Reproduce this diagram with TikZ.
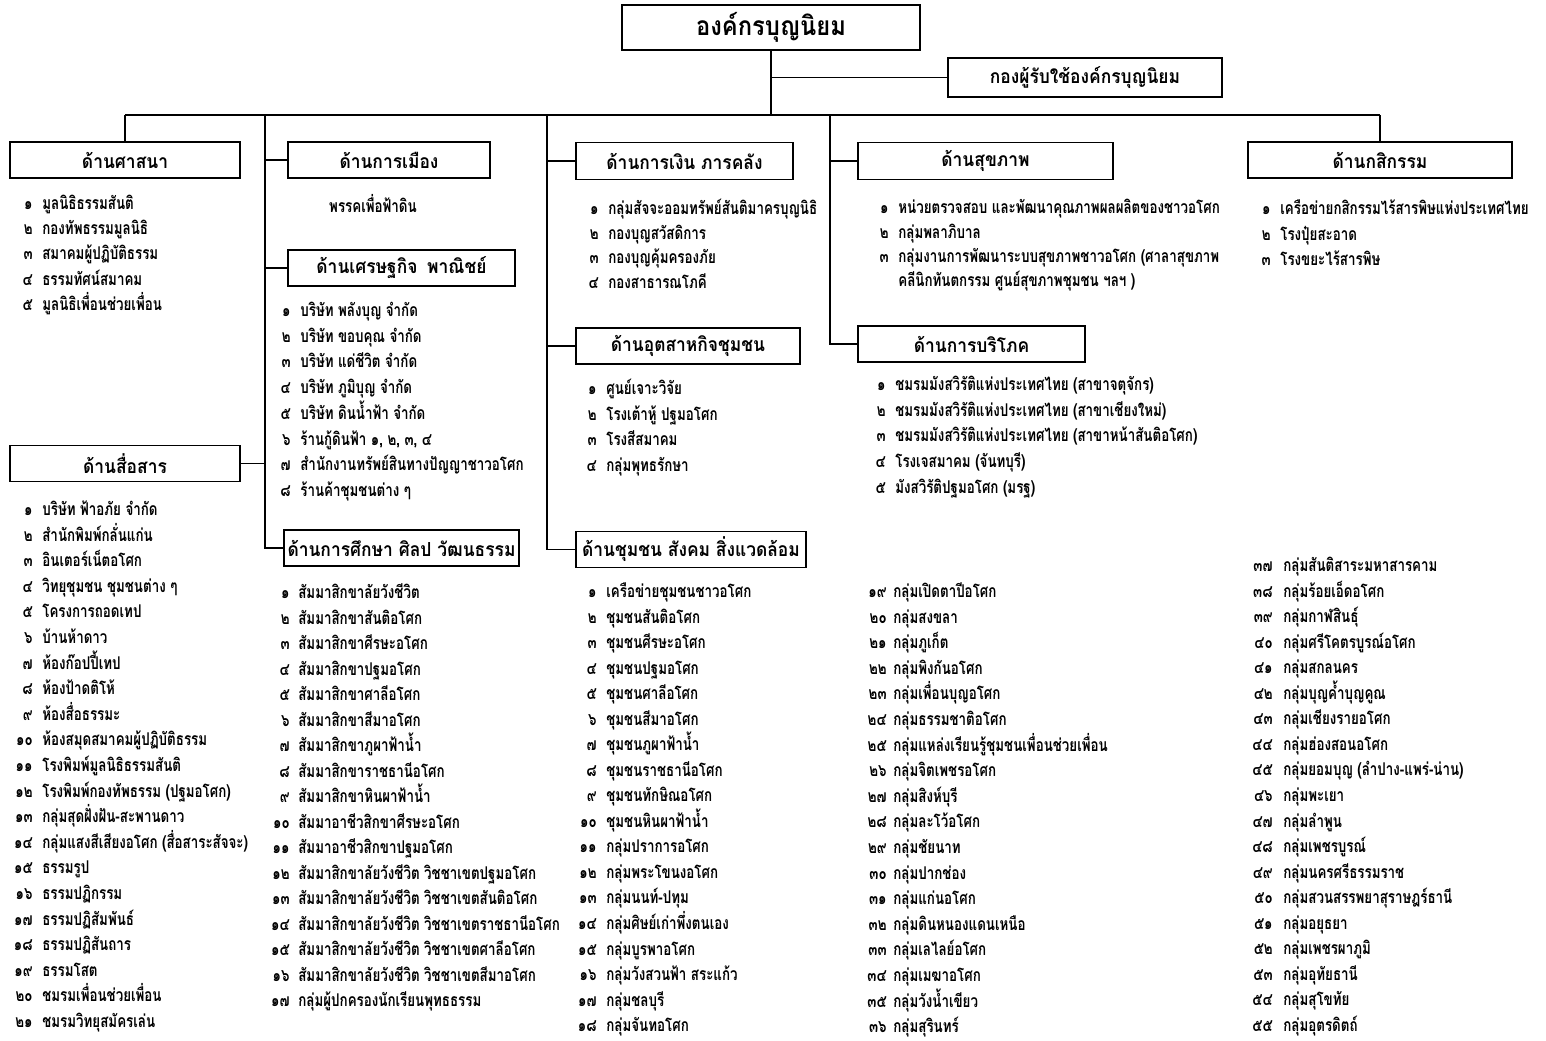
\documentclass[tikz,border=0pt]{standalone}
\usepackage{fontspec}
\newfontfamily\thaifont[Script=Thai, FakeStretch=0.9]{Loma}
\newfontfamily\thainarrow[Script=Thai, FakeStretch=0.76]{Loma}
\usetikzlibrary{positioning}

% Thai numerals for the list counters
\newcommand{\thdig}[1]{\ifcase#1\relax ๐\or ๑\or ๒\or ๓\or ๔\or ๕\or ๖\or ๗\or ๘\or ๙\fi}
\newcommand{\thnum}[1]{\ifnum#1>9 \thdig{\numexpr(#1-5)/10\relax}\thdig{\numexpr#1-10*((#1-5)/10)\relax}\else\thdig{#1}\fi}
\newcommand{\listfont}{\thainarrow\bfseries\fontsize{10}{12}\selectfont}

\begin{document}
\begin{tikzpicture}[x=0.02cm, y=-0.02cm,
    dept/.style={draw, line width=1pt, rectangle, minimum height=0.72cm, inner sep=2pt,
      font=\thaifont\bfseries\fontsize{11}{13}\selectfont},
    num/.style={anchor=east, inner sep=0pt, text height=1.7ex, text depth=0.5ex, font=\listfont},
    item/.style={anchor=west, inner sep=0pt, text height=1.7ex, text depth=0.5ex, font=\listfont},
    link/.style={line width=0.7pt}]
    \useasboundingbox (0,0) rectangle (1546,1041);

    % head and staff
    \node[dept, line width=1.6pt, minimum width=5.96cm, minimum height=0.9cm,
      font=\thaifont\bfseries\fontsize{15}{18}\selectfont] (top) at (771,27.5) {องค์กรบุญนิยม};
    \node[dept, minimum width=5.48cm, minimum height=0.78cm] (staff) at (1085,77.5) {กองผู้รับใช้องค์กรบุญนิยม};

    % departments
    \node[dept, minimum width=4.6cm] (religion) at (125,160) {ด้านศาสนา};
    \node[dept, minimum width=4.04cm] (politics) at (389,160) {ด้านการเมือง};
    \node[dept, minimum width=4.34cm, minimum height=0.74cm] (finance) at (684.5,161) {ด้านการเงิน ภารคลัง};
    \node[dept, minimum width=5.1cm, minimum height=0.74cm] (health) at (985.5,161) {ด้านสุขภาพ};
    \node[dept, minimum width=5.28cm] (agri) at (1380,160) {ด้านกสิกรรม};
    \node[dept, minimum width=4.54cm] (econ) at (401.5,268) {ด้านเศรษฐกิจ\enspace พาณิชย์};
    \node[dept, minimum width=4.48cm] (industry) at (688,346) {ด้านอุตสาหกิจชุมชน};
    \node[dept, minimum width=4.54cm] (consume) at (971.5,344) {ด้านการบริโภค};
    \node[dept, minimum width=4.6cm] (media) at (125,463.5) {ด้านสื่อสาร};
    \node[dept, minimum width=4.54cm] (edu) at (401.5,548) {ด้านการศึกษา ศิลป วัฒนธรรม};
    \node[dept, minimum width=4.6cm] (community) at (691,549.5) {ด้านชุมชน สังคม สิ่งแวดล้อม};

    % connectors
    \coordinate (busL) at (religion.north |- 0,115);
    \coordinate (busR) at (agri.north |- 0,115);
    \coordinate (sp1) at (265,115);
    \coordinate (sp2) at (547,115);
    \coordinate (sp3) at (830,115);
    \draw[link] (top.south) -- (top.south |- busL);
    \draw[link] (top.south |- staff.west) -- (staff.west);
    \draw[link] (busL) -- (busR);
    \draw[link] (busL) -- (religion.north);
    \draw[link] (busR) -- (agri.north);
    \draw[link] (sp1) |- (edu.west);
    \draw[link] (politics.west -| sp1) -- (politics.west);
    \draw[link] (econ.west -| sp1) -- (econ.west);
    \draw[link] (media.east) -- (media.east -| sp1);
    \draw[link] (sp2) |- (community.west);
    \draw[link] (finance.west -| sp2) -- (finance.west);
    \draw[link] (industry.west -| sp2) -- (industry.west);
    \draw[link] (sp3) |- (consume.west);
    \draw[link] (health.west -| sp3) -- (health.west);

    % lists
    \foreach \t [count=\i] in {มูลนิธิธรรมสันติ, กองทัพธรรมมูลนิธิ, สมาคมผู้ปฏิบัติธรรม,
        ธรรมทัศน์สมาคม, มูลนิธิเพื่อนช่วยเพื่อน}{
      \node[num] (reln\i) at (33,{179.5+25.3*\i}) {\thnum{\i}};
      \node[item] (rel\i) at (42,{179.5+25.3*\i}) {\t};
    }
    \node[font=\listfont] (party) at (373,204) {พรรคเพื่อฟ้าดิน};
    \foreach \t [count=\i] in {บริษัท พลังบุญ จำกัด, บริษัท ขอบคุณ จำกัด, บริษัท แด่ชีวิต จำกัด,
        บริษัท ภูมิบุญ จำกัด, บริษัท ดินน้ำฟ้า จำกัด, {ร้านกู้ดินฟ้า ๑, ๒, ๓, ๔},
        สำนักงานทรัพย์สินทางปัญญาชาวอโศก, ร้านค้าชุมชนต่าง ๆ}{
      \node[num] (ecn\i) at (291,{286.3+25.7*\i}) {\thnum{\i}};
      \node[item] (ec\i) at (300,{286.3+25.7*\i}) {\t};
    }
    \foreach \t [count=\i] in {กลุ่มสัจจะออมทรัพย์สันติมาครบุญนิธิ, กองบุญสวัสดิการ,
        กองบุญคุ้มครองภัย, กองสาธารณโภคี}{
      \node[num] (fin\i) at (599,{185.5+24.6*\i}) {\thnum{\i}};
      \node[item] (fi\i) at (608,{185.5+24.6*\i}) {\t};
    }
    \foreach \t [count=\i] in {ศูนย์เจาะวิจัย, โรงเต้าหู้ ปฐมอโศก, โรงสีสมาคม, กลุ่มพุทธรักษา}{
      \node[num] (ind\i) at (597,{364.5+25.5*\i}) {\thnum{\i}};
      \node[item] (in\i) at (606,{364.5+25.5*\i}) {\t};
    }
    \foreach \t [count=\i] in {หน่วยตรวจสอบ และพัฒนาคุณภาพผลผลิตของชาวอโศก, กลุ่มพลาภิบาล,
        กลุ่มงานการพัฒนาระบบสุขภาพชาวอโศก (ศาลาสุขภาพ}{
      \node[num] (hen\i) at (889,{184.5+24.5*\i}) {\thnum{\i}};
      \node[item] (he\i) at (898,{184.5+24.5*\i}) {\t};
    }
    \node[item, below=4pt of he3.south west, anchor=north west] (he3b) {คลีนิกทันตกรรม ศูนย์สุขภาพชุมชน ฯลฯ )};
    \foreach \t [count=\i] in {ชมรมมังสวิรัติแห่งประเทศไทย (สาขาจตุจักร),
        ชมรมมังสวิรัติแห่งประเทศไทย (สาขาเชียงใหม่),
        ชมรมมังสวิรัติแห่งประเทศไทย (สาขาหน้าสันติอโศก),
        โรงเจสมาคม (จันทบุรี), มังสวิรัติปฐมอโศก (มรฐ)}{
      \node[num] (con\i) at (886,{360+25.8*\i}) {\thnum{\i}};
      \node[item] (co\i) at (895,{360+25.8*\i}) {\t};
    }
    \foreach \t [count=\i] in {เครือข่ายกสิกรรมไร้สารพิษแห่งประเทศไทย, โรงปุ๋ยสะอาด, โรงขยะไร้สารพิษ}{
      \node[num] (agn\i) at (1271,{184.5+25.5*\i}) {\thnum{\i}};
      \node[item] (ag\i) at (1280,{184.5+25.5*\i}) {\t};
    }
    \foreach \t [count=\i] in {บริษัท ฟ้าอภัย จำกัด, สำนักพิมพ์กลั่นแก่น, อินเตอร์เน็ตอโศก,
        วิทยุชุมชน ชุมชนต่าง ๆ, โครงการถอดเทป, บ้านห้าดาว, ห้องก๊อปปี้เทป, ห้องป้าดติโห้,
        ห้องสื่อธรรมะ, ห้องสมุดสมาคมผู้ปฏิบัติธรรม, โรงพิมพ์มูลนิธิธรรมสันติ,
        โรงพิมพ์กองทัพธรรม (ปฐมอโศก), กลุ่มสุดฝั่งฝัน-สะพานดาว,
        กลุ่มแสงสีเสียงอโศก (สื่อสาระสัจจะ), ธรรมรูป, ธรรมปฏิกรรม, ธรรมปฏิสัมพันธ์,
        ธรรมปฏิสันถาร, ธรรมโสต, ชมรมเพื่อนช่วยเพื่อน, ชมรมวิทยุสมัครเล่น}{
      \node[num] (men\i) at (33,{485.4+25.6*\i}) {\thnum{\i}};
      \node[item] (me\i) at (42,{485.4+25.6*\i}) {\t};
    }
    \foreach \t [count=\i] in {สัมมาสิกขาลัยวังชีวิต, สัมมาสิกขาสันติอโศก, สัมมาสิกขาศีรษะอโศก,
        สัมมาสิกขาปฐมอโศก, สัมมาสิกขาศาลีอโศก, สัมมาสิกขาสีมาอโศก, สัมมาสิกขาภูผาฟ้าน้ำ,
        สัมมาสิกขาราชธานีอโศก, สัมมาสิกขาหินผาฟ้าน้ำ, สัมมาอาชีวสิกขาศีรษะอโศก,
        สัมมาอาชีวสิกขาปฐมอโศก, สัมมาสิกขาลัยวังชีวิต วิชชาเขตปฐมอโศก,
        สัมมาสิกขาลัยวังชีวิต วิชชาเขตสันติอโศก, สัมมาสิกขาลัยวังชีวิต วิชชาเขตราชธานีอโศก,
        สัมมาสิกขาลัยวังชีวิต วิชชาเขตศาลีอโศก, สัมมาสิกขาลัยวังชีวิต วิชชาเขตสีมาอโศก,
        กลุ่มผู้ปกครองนักเรียนพุทธธรรม}{
      \node[num] (edn\i) at (290,{568.5+25.5*\i}) {\thnum{\i}};
      \node[item] (ed\i) at (298,{568.5+25.5*\i}) {\t};
    }
    \foreach \t [count=\i] in {เครือข่ายชุมชนชาวอโศก, ชุมชนสันติอโศก, ชุมชนศีรษะอโศก,
        ชุมชนปฐมอโศก, ชุมชนศาลีอโศก, ชุมชนสีมาอโศก, ชุมชนภูผาฟ้าน้ำ, ชุมชนราชธานีอโศก,
        ชุมชนทักษิณอโศก, ชุมชนหินผาฟ้าน้ำ, กลุ่มปราการอโศก, กลุ่มพระโขนงอโศก,
        กลุ่มนนท์-ปทุม, กลุ่มศิษย์เก่าพึ่งตนเอง, กลุ่มบูรพาอโศก, กลุ่มวังสวนฟ้า สระแก้ว,
        กลุ่มชลบุรี, กลุ่มจันทอโศก}{
      \node[num] (cmn\i) at (597,{567.5+25.53*\i}) {\thnum{\i}};
      \node[item] (cm\i) at (606,{567.5+25.53*\i}) {\t};
    }
    \foreach \t [count=\i from 19] in {กลุ่มเปิดตาปีอโศก, กลุ่มสงขลา, กลุ่มภูเก็ต,
        กลุ่มพิงกันอโศก, กลุ่มเพื่อนบุญอโศก, กลุ่มธรรมชาติอโศก,
        กลุ่มแหล่งเรียนรู้ชุมชนเพื่อนช่วยเพื่อน, กลุ่มจิตเพชรอโศก, กลุ่มสิงห์บุรี,
        กลุ่มละโว้อโศก, กลุ่มชัยนาท, กลุ่มปากช่อง, กลุ่มแก่นอโศก, กลุ่มดินหนองแดนเหนือ,
        กลุ่มเลไลย์อโศก, กลุ่มเมฆาอโศก, กลุ่มวังน้ำเขียว, กลุ่มสุรินทร์}{
      \node[num] (cmn\i) at (887,{593+25.6*(\i-19)}) {\thnum{\i}};
      \node[item] (cm\i) at (893,{593+25.6*(\i-19)}) {\t};
    }
    \foreach \t [count=\i from 37] in {กลุ่มสันติสาระมหาสารคาม, กลุ่มร้อยเอ็ดอโศก, กลุ่มกาฬสินธุ์,
        กลุ่มศรีโคตรบูรณ์อโศก, กลุ่มสกลนคร, กลุ่มบุญค้ำบุญคูณ, กลุ่มเชียงรายอโศก,
        กลุ่มฮ่องสอนอโศก, กลุ่มยอมบุญ (ลำปาง-แพร่-น่าน), กลุ่มพะเยา, กลุ่มลำพูน,
        กลุ่มเพชรบูรณ์, กลุ่มนครศรีธรรมราช, กลุ่มสวนสรรพยาสุราษฎร์ธานี, กลุ่มอยุธยา,
        กลุ่มเพชรผาภูมิ, กลุ่มอุทัยธานี, กลุ่มสุโขทัย, กลุ่มอุตรดิตถ์}{
      \node[num] (cmn\i) at (1273,{567+25.55*(\i-37)}) {\thnum{\i}};
      \node[item] (cm\i) at (1283,{567+25.55*(\i-37)}) {\t};
    }
\end{tikzpicture}
\end{document}
